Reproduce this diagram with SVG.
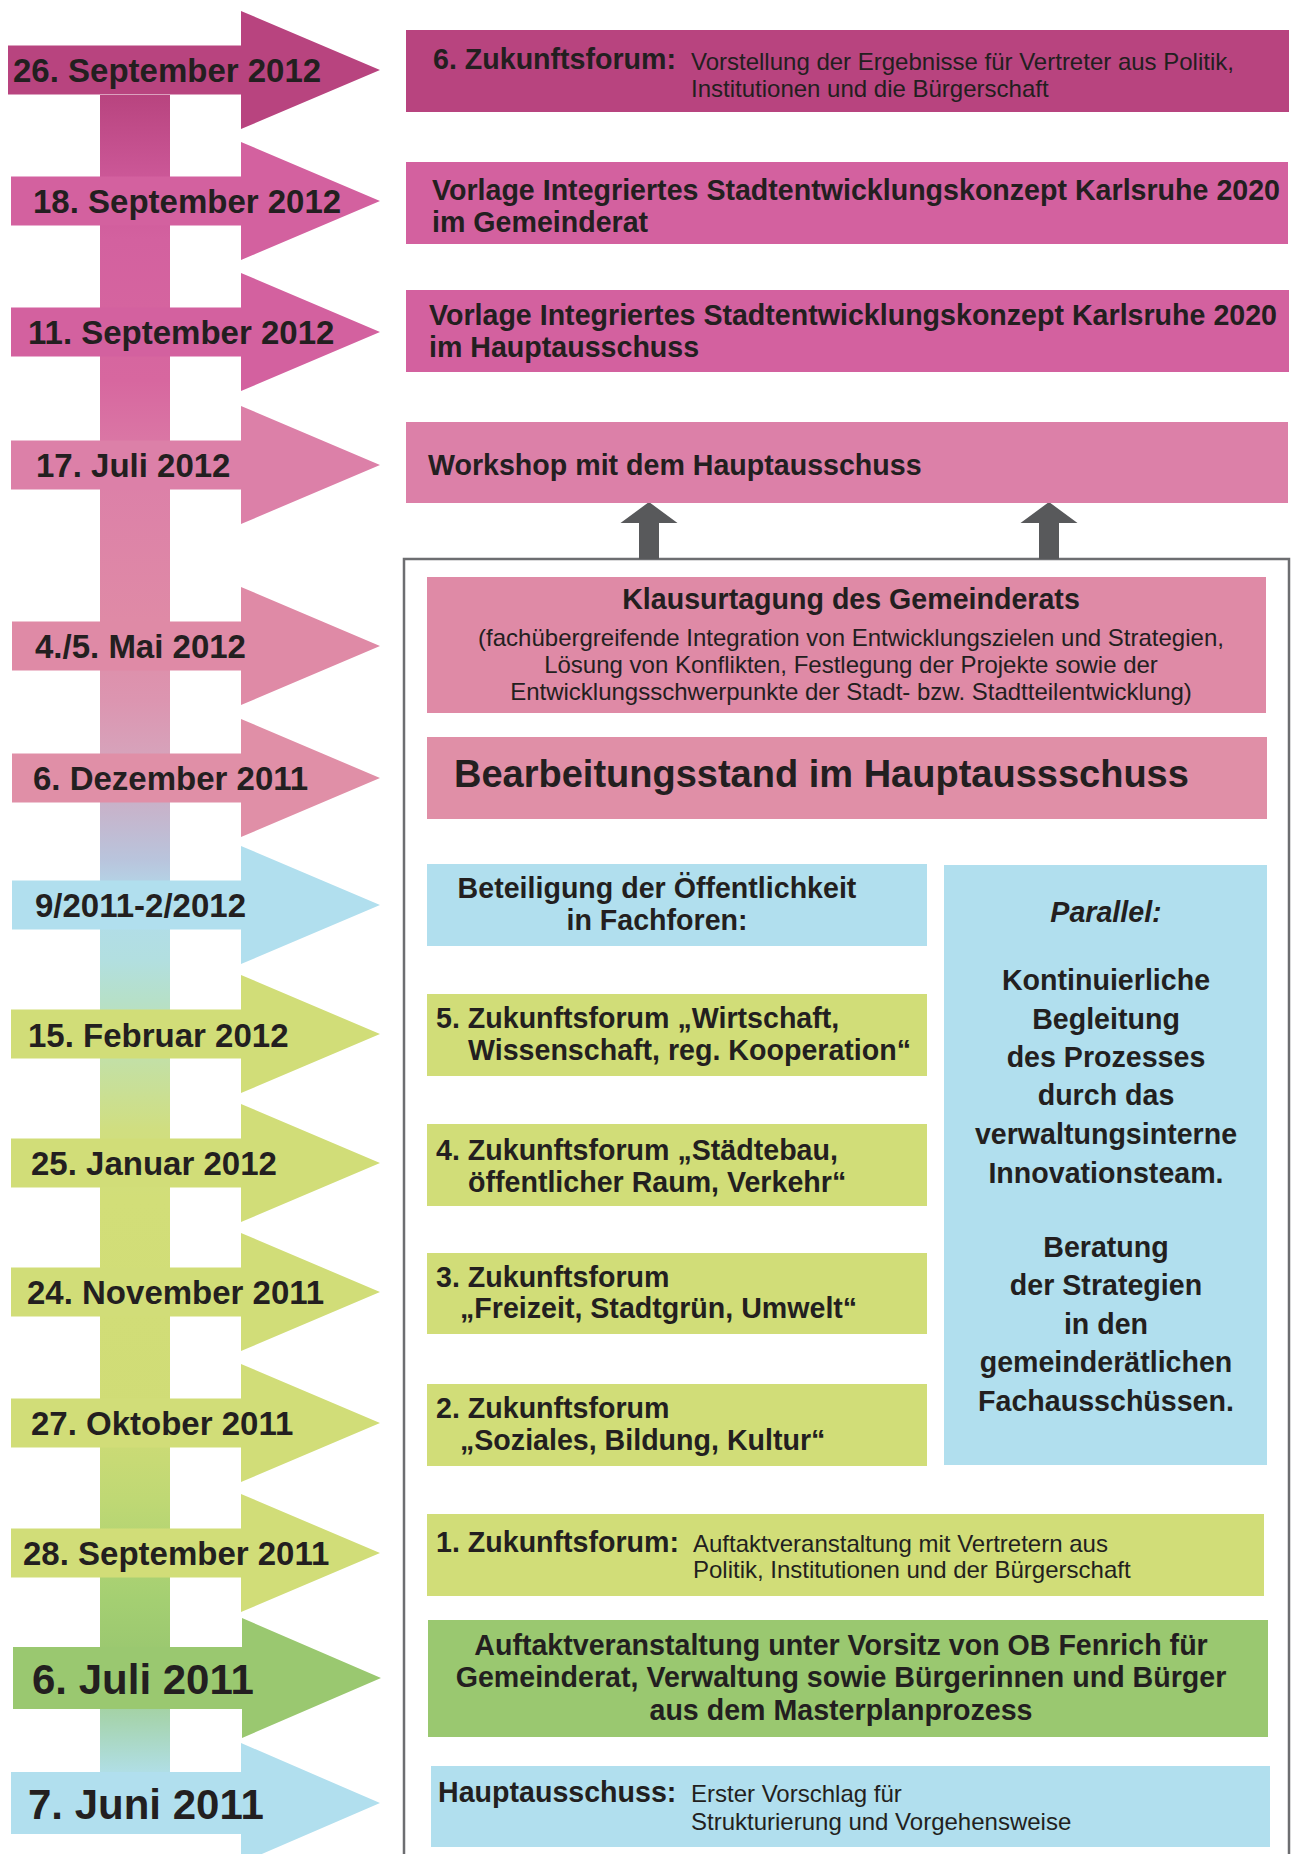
<svg xmlns="http://www.w3.org/2000/svg" width="1295" height="1854" viewBox="0 0 1295 1854">
<style>
text{font-family:"Liberation Sans",Arial,sans-serif;fill:#231f20}
.d{font-size:33px;font-weight:bold}
.dl{font-size:42px;font-weight:bold}
.b{font-size:28.6px;font-weight:bold}
.r{font-size:24px}
.c{text-anchor:middle}
.m1{fill:#b8447f}.m2{fill:#d3619f}.m3{fill:#dc80a8}.m4{fill:#df8aa6}.m5{fill:#e08fa7}
.bl{fill:#b1dfee}.yg{fill:#d1dd78}.gr{fill:#9ac870}
</style>
<defs>
<linearGradient id="stemGrad" gradientUnits="userSpaceOnUse" x1="0" y1="95" x2="0" y2="1775">
<stop offset="0" stop-color="#b8447f"/>
<stop offset="0.05" stop-color="#cc5898"/>
<stop offset="0.086" stop-color="#d3619f"/>
<stop offset="0.17" stop-color="#d7679f"/>
<stop offset="0.229" stop-color="#dc80a8"/>
<stop offset="0.3125" stop-color="#df8aa6"/>
<stop offset="0.36" stop-color="#dc95b0"/>
<stop offset="0.396" stop-color="#d6a4bc"/>
<stop offset="0.42" stop-color="#c9b1c8"/>
<stop offset="0.455" stop-color="#b9c4dc"/>
<stop offset="0.479" stop-color="#b1dcec"/>
<stop offset="0.515" stop-color="#b2dfe0"/>
<stop offset="0.539" stop-color="#b6e0c8"/>
<stop offset="0.574" stop-color="#c3e0a6"/>
<stop offset="0.616" stop-color="#d0de80"/>
<stop offset="0.658" stop-color="#d2de78"/>
<stop offset="0.789" stop-color="#d0dc76"/>
<stop offset="0.836" stop-color="#bfd874"/>
<stop offset="0.896" stop-color="#a4cf72"/>
<stop offset="0.926" stop-color="#9bc870"/>
<stop offset="0.967" stop-color="#a6d4b0"/>
<stop offset="1" stop-color="#b1dfe8"/>
</linearGradient>
</defs>
<rect width="1295" height="1854" fill="#ffffff"/>

<g id="timeline-stem">
<rect x="100" y="95" width="70" height="1680" fill="url(#stemGrad)"/>
</g>

<g id="date-1"><path class="m1" d="M8,45.5H241V11L380,70L241,129V94.5H8Z"/><text class="d" x="13" y="82">26. September 2012</text></g>
<g id="date-2"><path class="m2" d="M11,176.5H241V142L380,201L241,260V225.5H11Z"/><text class="d" x="33" y="213">18. September 2012</text></g>
<g id="date-3"><path class="m2" d="M11,307.5H241V273L380,332L241,391V356.5H11Z"/><text class="d" x="28" y="344">11. September 2012</text></g>
<g id="date-4"><path class="m3" d="M11,440.5H241V406L380,465L241,524V489.5H11Z"/><text class="d" x="36" y="477">17. Juli 2012</text></g>
<g id="date-5"><path class="m4" d="M12,621.5H241V587L380,646L241,705V670.5H12Z"/><text class="d" x="35" y="658">4./5. Mai 2012</text></g>
<g id="date-6"><path class="m5" d="M12,753.5H241V719L380,778L241,837V802.5H12Z"/><text class="d" x="33" y="790">6. Dezember 2011</text></g>
<g id="date-7"><path class="bl" d="M12,880.5H241V846L380,905L241,964V929.5H12Z"/><text class="d" x="35" y="917">9/2011-2/2012</text></g>
<g id="date-8"><path class="yg" d="M11,1009.5H241V975L380,1034L241,1093V1058.5H11Z"/><text class="d" x="28" y="1047">15. Februar 2012</text></g>
<g id="date-9"><path class="yg" d="M11,1138.5H241V1104L380,1163L241,1222V1187.5H11Z"/><text class="d" x="31" y="1175">25. Januar 2012</text></g>
<g id="date-10"><path class="yg" d="M11,1267.5H241V1233L380,1292L241,1351V1316.5H11Z"/><text class="d" x="27" y="1304">24. November 2011</text></g>
<g id="date-11"><path class="yg" d="M11,1398.5H241V1364L380,1423L241,1482V1447.5H11Z"/><text class="d" x="31" y="1435">27. Oktober 2011</text></g>
<g id="date-12"><path class="yg" d="M11,1528.5H241V1494L380,1553L241,1612V1577.5H11Z"/><text class="d" x="23" y="1565">28. September 2011</text></g>
<g id="date-13"><path class="gr" d="M13,1647H242V1618L381,1678L242,1738V1709H13Z"/><text class="dl" x="32" y="1694">6. Juli 2011</text></g>
<g id="date-14"><path class="bl" d="M11,1772H241V1743L380,1803L241,1863V1834H11Z"/><text class="dl" x="28" y="1819">7. Juni 2011</text></g>

<g id="frame">
<rect x="404" y="559" width="885" height="1320" fill="none" stroke="#6d6e71" stroke-width="2.5"/>
</g>

<g id="connectors">
<path fill="#58595b" d="M649,502L677.5,523H659V559H639V523H620.5Z"/>
<path fill="#58595b" d="M1049,502L1077.5,523H1059V559H1039V523H1020.5Z"/>
</g>

<g id="box-1"><rect class="m1" x="406" y="30" width="883" height="82"/>
<text class="b" x="433" y="69">6. Zukunftsforum:</text>
<text class="r" x="691" y="70">Vorstellung der Ergebnisse für Vertreter aus Politik,</text>
<text class="r" x="691" y="97">Institutionen und die Bürgerschaft</text></g>

<g id="box-2"><rect class="m2" x="406" y="162" width="882" height="82"/>
<text class="b" x="432" y="200">Vorlage Integriertes Stadtentwicklungskonzept Karlsruhe 2020</text>
<text class="b" x="432" y="232">im Gemeinderat</text></g>

<g id="box-3"><rect class="m2" x="406" y="290" width="883" height="82"/>
<text class="b" x="429" y="325">Vorlage Integriertes Stadtentwicklungskonzept Karlsruhe 2020</text>
<text class="b" x="429" y="357">im Hauptausschuss</text></g>

<g id="box-4"><rect class="m3" x="406" y="422" width="882" height="81"/>
<text class="b" x="428" y="475">Workshop mit dem Hauptausschuss</text></g>

<g id="box-5"><rect class="m4" x="427" y="577" width="839" height="136"/>
<text class="b c" x="851" y="609">Klausurtagung des Gemeinderats</text>
<text class="r c" x="851" y="646">(fachübergreifende Integration von Entwicklungszielen und Strategien,</text>
<text class="r c" x="851" y="673">Lösung von Konflikten, Festlegung der Projekte sowie der</text>
<text class="r c" x="851" y="700">Entwicklungsschwerpunkte der Stadt- bzw. Stadtteilentwicklung)</text></g>

<g id="box-6"><rect class="m5" x="427" y="737" width="840" height="82"/>
<text x="454" y="787" style="font-size:38px;font-weight:bold">Bearbeitungsstand im Hauptaussschuss</text></g>

<g id="box-7"><rect class="bl" x="427" y="864" width="500" height="82"/>
<text class="b c" x="657" y="898">Beteiligung der Öffentlichkeit</text>
<text class="b c" x="657" y="930">in Fachforen:</text></g>

<g id="box-parallel"><rect class="bl" x="944" y="865" width="323" height="600"/>
<text class="b c" x="1106" y="922" font-style="italic">Parallel:</text>
<text class="b c" x="1106" y="990">Kontinuierliche</text>
<text class="b c" x="1106" y="1029">Begleitung</text>
<text class="b c" x="1106" y="1067">des Prozesses</text>
<text class="b c" x="1106" y="1105">durch das</text>
<text class="b c" x="1106" y="1144">verwaltungsinterne</text>
<text class="b c" x="1106" y="1183">Innovationsteam.</text>
<text class="b c" x="1106" y="1257">Beratung</text>
<text class="b c" x="1106" y="1295">der Strategien</text>
<text class="b c" x="1106" y="1334">in den</text>
<text class="b c" x="1106" y="1372">gemeinderätlichen</text>
<text class="b c" x="1106" y="1411">Fachausschüssen.</text></g>

<g id="box-forum-5"><rect class="yg" x="427" y="994" width="500" height="82"/>
<text class="b" x="436" y="1028">5. Zukunftsforum „Wirtschaft,</text>
<text class="b" x="468" y="1060">Wissenschaft, reg. Kooperation“</text></g>

<g id="box-forum-4"><rect class="yg" x="427" y="1124" width="500" height="82"/>
<text class="b" x="436" y="1160">4. Zukunftsforum „Städtebau,</text>
<text class="b" x="468" y="1192">öffentlicher Raum, Verkehr“</text></g>

<g id="box-forum-3"><rect class="yg" x="427" y="1253" width="500" height="81"/>
<text class="b" x="436" y="1287">3. Zukunftsforum</text>
<text class="b" x="460" y="1318">„Freizeit, Stadtgrün, Umwelt“</text></g>

<g id="box-forum-2"><rect class="yg" x="427" y="1384" width="500" height="82"/>
<text class="b" x="436" y="1418">2. Zukunftsforum</text>
<text class="b" x="460" y="1450">„Soziales, Bildung, Kultur“</text></g>

<g id="box-forum-1"><rect class="yg" x="427" y="1514" width="837" height="82"/>
<text class="b" x="436" y="1552">1. Zukunftsforum:</text>
<text class="r" x="693" y="1552">Auftaktveranstaltung mit Vertretern aus</text>
<text class="r" x="693" y="1578">Politik, Institutionen und der Bürgerschaft</text></g>

<g id="box-auftakt"><rect class="gr" x="428" y="1620" width="840" height="117"/>
<text class="b c" x="841" y="1655">Auftaktveranstaltung unter Vorsitz von OB Fenrich für</text>
<text class="b c" x="841" y="1687">Gemeinderat, Verwaltung sowie Bürgerinnen und Bürger</text>
<text class="b c" x="841" y="1720">aus dem Masterplanprozess</text></g>

<g id="box-hauptausschuss"><rect class="bl" x="431" y="1766" width="839" height="81"/>
<text class="b" x="438" y="1802">Hauptausschuss:</text>
<text class="r" x="691" y="1802">Erster Vorschlag für</text>
<text class="r" x="691" y="1830">Strukturierung und Vorgehensweise</text></g>
</svg>
